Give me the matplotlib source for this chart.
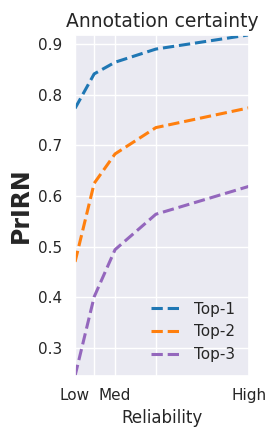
import numpy as np
import matplotlib
matplotlib.use("Agg")
import matplotlib.pyplot as plt
import seaborn as sns

sns.set_theme(style="darkgrid")
plt.rcParams["font.family"] = ["DejaVu Sans"]

reliability = np.array([0.0, 0.11, 0.23, 0.465, 1.0])
tick_labels = ["Low", "", "Med", "", "High"]
top1 = np.array([0.773, 0.841, 0.864, 0.890, 0.918])
top2 = np.array([0.470, 0.625, 0.683, 0.735, 0.774])
top3 = np.array([0.245, 0.401, 0.494, 0.564, 0.619])

fig = plt.figure(figsize=(2.79, 4.36), dpi=100)
ax = fig.add_axes([0.269, 0.138, 0.623, 0.782])

ax.plot(reliability, top1, "--", color="#1f77b4", lw=2.2, label="Top-1")
ax.plot(reliability, top2, "--", color="#ff7f0e", lw=2.2, label="Top-2")
ax.plot(reliability, top3, "--", color="#9467bd", lw=2.2, label="Top-3")

ax.set_xlim(reliability.min(), reliability.max())
ax.set_ylim(top3.min(), top1.max())
ax.set_xticks(reliability)
ax.set_xticklabels(tick_labels)
ax.set_yticks([0.3, 0.4, 0.5, 0.6, 0.7, 0.8, 0.9])
ax.tick_params(labelsize=11, pad=3)
ax.set_xlabel("Reliability", fontsize=12)
ax.set_ylabel("PrIRN", fontsize=17, fontweight="bold")
ax.set_title("Annotation certainty", fontsize=13.5)
ax.legend(loc="lower right", frameon=False, fontsize=11)

fig.savefig("out.png", dpi=100)
